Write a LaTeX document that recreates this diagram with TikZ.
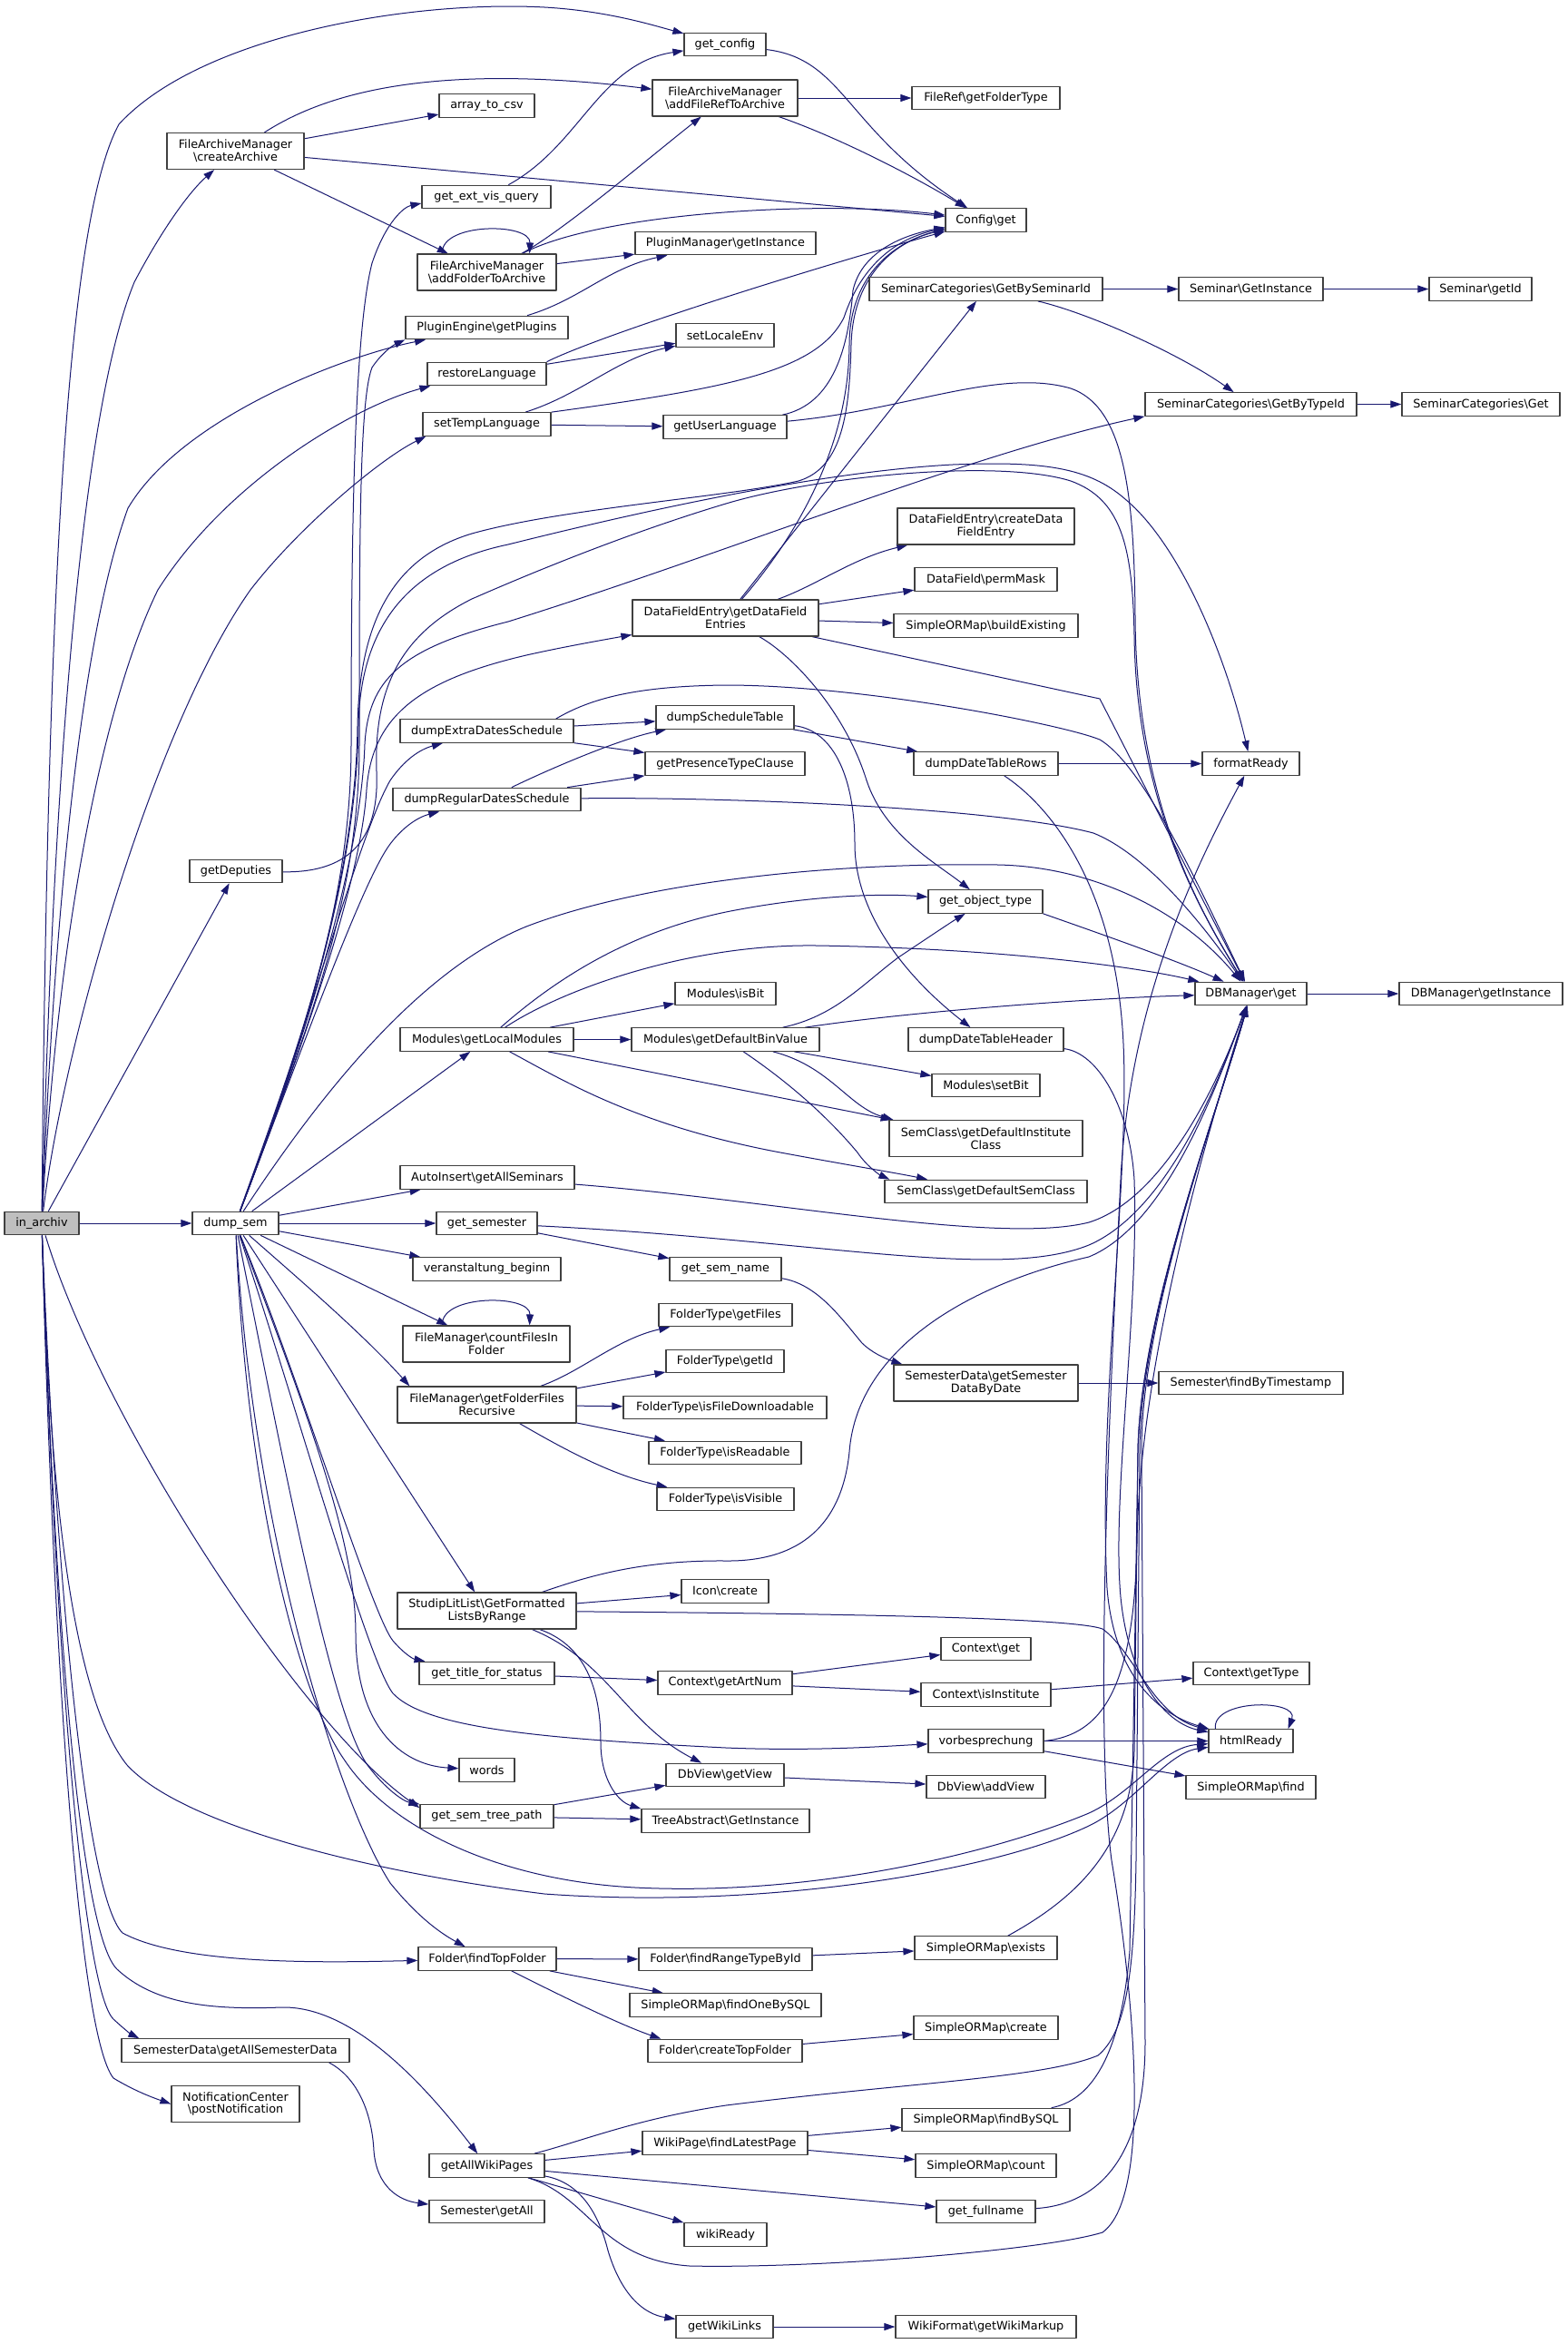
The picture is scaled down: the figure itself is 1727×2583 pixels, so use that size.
\documentclass[tikz,border=0pt]{standalone}
\usepackage{fontspec}
\setmainfont{DejaVu Sans}
\usetikzlibrary{arrows.meta,backgrounds}
\definecolor{edgeblue}{HTML}{191970}
\definecolor{boxline}{HTML}{404040}
\newcommand{\bsl}{\textbackslash}
\tikzset{
  fn/.style={draw=boxline,line width=1.2pt,fill=white,inner sep=0pt,
    minimum height=25.5pt,align=center,font=\fontsize{12.8}{13.7}\selectfont},
  fn2/.style={fn,minimum height=40pt},
  call/.style={draw=edgeblue,line width=1pt,-{Triangle[length=12pt,width=8pt]}},
}
\begin{document}
\begin{tikzpicture}[x=1pt,y=-1pt,line join=round]
\useasboundingbox (0,0) rectangle (1727,2583);
% functions
\node[fn,fill=gray!50,minimum width=82pt] (inarchiv) at (46,1348) {in\_archiv};
\node[fn,minimum width=95pt] (dumpsem) at (259.5,1348) {dump\_sem};
\node[fn2,minimum width=151pt] (createArchive) at (259.5,166.5) {FileArchiveManager\\\bsl createArchive};
\node[fn,minimum width=105pt] (arraytocsv) at (536.5,116.5) {array\_to\_csv};
\node[fn,minimum width=142pt] (getextvisquery) at (536,217) {get\_ext\_vis\_query};
\node[fn2,minimum width=153pt] (addFolder) at (536.5,300) {FileArchiveManager\\\bsl addFolderToArchive};
\node[fn,minimum width=179pt] (getPlugins) at (536.5,361) {PluginEngine\bsl getPlugins};
\node[fn,minimum width=131pt] (restoreLang) at (536.5,412) {restoreLanguage};
\node[fn,minimum width=141pt] (setTempLang) at (536.5,467.5) {setTempLanguage};
\node[fn,minimum width=90pt] (getconfig) at (799,49) {get\_config};
\node[fn2,minimum width=160pt] (addFileRef) at (799,108) {FileArchiveManager\\\bsl addFileRefToArchive};
\node[fn,minimum width=163pt] (getFolderType) at (1086.5,108) {FileRef\bsl getFolderType};
\node[fn,minimum width=89pt] (configget) at (1086.5,242.5) {Config\bsl get};
\node[fn,minimum width=199pt] (pmGetInstance) at (799.5,268) {PluginManager\bsl getInstance};
\node[fn,minimum width=257pt] (getBySeminarId) at (1086.5,318.5) {SeminarCategories\bsl GetBySeminarId};
\node[fn,minimum width=108pt] (setLocaleEnv) at (799,369.5) {setLocaleEnv};
\node[fn,minimum width=136pt] (getUserLang) at (799,470.5) {getUserLanguage};
\node[fn,minimum width=159pt] (semGetInstance) at (1378.5,318.5) {Seminar\bsl GetInstance};
\node[fn,minimum width=113pt] (semGetId) at (1631.5,318.5) {Seminar\bsl getId};
\node[fn,minimum width=233pt] (getByTypeId) at (1378.5,445.5) {SeminarCategories\bsl GetByTypeId};
\node[fn,minimum width=174pt] (scGet) at (1632,445.5) {SeminarCategories\bsl Get};
\node[fn2,minimum width=195pt] (createDFE) at (1086.5,580) {DataFieldEntry\bsl createData\\FieldEntry};
\node[fn,minimum width=157pt] (permMask) at (1086.5,638.5) {DataField\bsl permMask};
\node[fn2,minimum width=205pt] (getDFE) at (799.5,681) {DataFieldEntry\bsl getDataField\\Entries};
\node[fn,minimum width=203pt] (buildExisting) at (1086.5,689.5) {SimpleORMap\bsl buildExisting};
\node[fn,minimum width=191pt] (dumpExtra) at (536.5,805.5) {dumpExtraDatesSchedule};
\node[fn,minimum width=207pt] (dumpRegular) at (536.5,881) {dumpRegularDatesSchedule};
\node[fn,minimum width=152pt] (dumpSchedTable) at (799,790.5) {dumpScheduleTable};
\node[fn,minimum width=176pt] (getPresence) at (799,841.5) {getPresenceTypeClause};
\node[fn,minimum width=159pt] (dumpRows) at (1086.5,841.5) {dumpDateTableRows};
\node[fn,minimum width=107pt] (formatReady) at (1378.5,841.5) {formatReady};
\node[fn,minimum width=102pt] (getDeputies) at (260,960) {getDeputies};
\node[fn,minimum width=126pt] (getobjecttype) at (1086,993.5) {get\_object\_type};
\node[fn,minimum width=111pt] (isBit) at (799.5,1095) {Modules\bsl isBit};
\node[fn,minimum width=123pt] (dbget) at (1378.5,1095) {DBManager\bsl get};
\node[fn,minimum width=180pt] (dbgetInstance) at (1632,1095) {DBManager\bsl getInstance};
\node[fn,minimum width=191pt] (getLocalModules) at (536.5,1145.5) {Modules\bsl getLocalModules};
\node[fn,minimum width=207pt] (getDefaultBin) at (799.5,1145.5) {Modules\bsl getDefaultBinValue};
\node[fn,minimum width=171pt] (dumpHeader) at (1086.5,1145.5) {dumpDateTableHeader};
\node[fn,minimum width=119pt] (setBit) at (1086.5,1196) {Modules\bsl setBit};
\node[fn2,minimum width=213pt] (defInstClass) at (1086.5,1254.5) {SemClass\bsl getDefaultInstitute\\Class};
\node[fn,minimum width=192pt] (getAllSeminars) at (537,1297.5) {AutoInsert\bsl getAllSeminars};
\node[fn,minimum width=223pt] (defSemClass) at (1086.5,1313) {SemClass\bsl getDefaultSemClass};
\node[fn,minimum width=111pt] (getsemester) at (536.5,1348) {get\_semester};
\node[fn,minimum width=163pt] (veranstaltung) at (536.5,1398.5) {veranstaltung\_beginn};
\node[fn,minimum width=123pt] (getsemname) at (799.5,1398.5) {get\_sem\_name};
\node[fn2,minimum width=184pt] (countFiles) at (536,1481) {FileManager\bsl countFilesIn\\Folder};
\node[fn,minimum width=147pt] (ftGetFiles) at (799.5,1449) {FolderType\bsl getFiles};
\node[fn,minimum width=130pt] (ftGetId) at (799,1500) {FolderType\bsl getId};
\node[fn,minimum width=224pt] (ftDownload) at (799,1551) {FolderType\bsl isFileDownloadable};
\node[fn,minimum width=168pt] (ftReadable) at (799,1601) {FolderType\bsl isReadable};
\node[fn,minimum width=151pt] (ftVisible) at (799.5,1652) {FolderType\bsl isVisible};
\node[fn2,minimum width=197pt] (getFolderFiles) at (536.5,1548) {FileManager\bsl getFolderFiles\\Recursive};
\node[fn2,minimum width=203pt] (semDataByDate) at (1086.5,1524) {SemesterData\bsl getSemester\\DataByDate};
\node[fn,minimum width=203pt] (findByTimestamp) at (1378.5,1524) {Semester\bsl findByTimestamp};
\node[fn2,minimum width=197pt] (litList) at (536.5,1775) {StudipLitList\bsl GetFormatted\\ListsByRange};
\node[fn,minimum width=96pt] (iconCreate) at (799,1753.5) {Icon\bsl create};
\node[fn,minimum width=149pt] (titleStatus) at (536.5,1844) {get\_title\_for\_status};
\node[fn,minimum width=99pt] (ctxGet) at (1086.5,1817) {Context\bsl get};
\node[fn,minimum width=148pt] (ctxArtNum) at (799,1854.5) {Context\bsl getArtNum};
\node[fn,minimum width=143pt] (ctxIsInst) at (1086.5,1867.5) {Context\bsl isInstitute};
\node[fn,minimum width=128pt] (ctxGetType) at (1379,1844) {Context\bsl getType};
\node[fn,minimum width=127pt] (vorbesprechung) at (1086.5,1918.5) {vorbesprechung};
\node[fn,minimum width=93pt] (htmlReady) at (1378.5,1918.5) {htmlReady};
\node[fn,minimum width=61pt] (words) at (536.5,1950.5) {words};
\node[fn,minimum width=130pt] (dbGetView) at (799,1956) {DbView\bsl getView};
\node[fn,minimum width=131pt] (dbAddView) at (1086.5,1969) {DbView\bsl addView};
\node[fn,minimum width=143pt] (ormFind) at (1378.5,1969.5) {SimpleORMap\bsl find};
\node[fn,minimum width=147pt] (semTreePath) at (536.5,2001.5) {get\_sem\_tree\_path};
\node[fn,minimum width=185pt] (treeGetInstance) at (799.5,2006.5) {TreeAbstract\bsl GetInstance};
\node[fn,minimum width=152pt] (findTopFolder) at (537,2158.5) {Folder\bsl findTopFolder};
\node[fn,minimum width=191pt] (findRangeType) at (799.5,2159) {Folder\bsl findRangeTypeById};
\node[fn,minimum width=157pt] (ormExists) at (1086.5,2146.5) {SimpleORMap\bsl exists};
\node[fn,minimum width=211pt] (findOneBySQL) at (799.5,2209.5) {SimpleORMap\bsl findOneBySQL};
\node[fn,minimum width=159pt] (ormCreate) at (1086.5,2234.5) {SimpleORMap\bsl create};
\node[fn,minimum width=170pt] (createTopFolder) at (799,2260) {Folder\bsl createTopFolder};
\node[fn,minimum width=251pt] (allSemData) at (259.5,2259.5) {SemesterData\bsl getAllSemesterData};
\node[fn2,minimum width=141pt] (postNotif) at (259.5,2318.5) {NotificationCenter\\\bsl postNotification};
\node[fn,minimum width=185pt] (ormFindBySQL) at (1086.5,2336) {SimpleORMap\bsl findBySQL};
\node[fn,minimum width=182pt] (findLatestPage) at (799,2361.5) {WikiPage\bsl findLatestPage};
\node[fn,minimum width=155pt] (ormCount) at (1086.5,2386.5) {SimpleORMap\bsl count};
\node[fn,minimum width=127pt] (allWikiPages) at (536.5,2386.5) {getAllWikiPages};
\node[fn,minimum width=127pt] (semGetAll) at (536.5,2437) {Semester\bsl getAll};
\node[fn,minimum width=109pt] (getFullname) at (1086.5,2437) {get\_fullname};
\node[fn,minimum width=91pt] (wikiReady) at (799.5,2462.5) {wikiReady};
\node[fn,minimum width=107pt] (getWikiLinks) at (798.5,2564) {getWikiLinks};
\node[fn,minimum width=199pt] (getWikiMarkup) at (1086.5,2564) {WikiFormat\bsl getWikiMarkup};

\begin{scope}[on background layer]
\fill[white] (0,0) rectangle (1727,2583);
% calls of in_archiv
\draw[call] (inarchiv) -- (dumpsem);
\draw[call] (inarchiv) .. controls (52,700) and (70,250) .. (131,137) .. controls (220,40) and (450,0) .. (600,8) .. controls (670,12) and (720,28) .. (getconfig);
\draw[call] (inarchiv) .. controls (60,800) and (95,440) .. (148,311) .. controls (180,250) and (210,210) .. (createArchive);
\draw[call] (inarchiv) .. controls (60,1000) and (90,700) .. (141,560) .. controls (200,460) and (380,392) .. (getPlugins);
\draw[call] (inarchiv) .. controls (65,1000) and (120,760) .. (174,650) .. controls (250,530) and (390,448) .. ([xshift=4pt]restoreLang.south west);
\draw[call] (inarchiv) .. controls (70,1150) and (170,800) .. (276,650) .. controls (330,580) and (420,505) .. ([xshift=4pt]setTempLang.south west);
\draw[call] (inarchiv) -- (getDeputies);
\draw[call] (inarchiv) .. controls (110,1560) and (330,1900) .. ([yshift=-4pt]semTreePath.north west);
\draw[call] (inarchiv) .. controls (62,1750) and (95,2090) .. (135,2130) .. controls (200,2165) and (350,2163) .. (findTopFolder);
\draw[call] (inarchiv) .. controls (60,1780) and (88,2130) .. (129,2170) .. controls (170,2208) and (230,2215) .. (310,2212) .. controls (390,2210) and (470,2300) .. (allWikiPages);
\draw[call] (inarchiv) .. controls (60,1800) and (90,2190) .. (125,2225) .. controls (138,2237) and (145,2242) .. ([xshift=20pt]allSemData.north west);
\draw[call] (inarchiv) .. controls (58,1800) and (85,2240) .. (125,2290) .. controls (150,2305) and (170,2312) .. (postNotif.west);
\draw[call] (inarchiv) .. controls (55,1650) and (80,1870) .. (140,1945) .. controls (200,2010) and (400,2062) .. (600,2087) .. controls (850,2105) and (1100,2060) .. (1200,2012) .. controls (1250,1988) and (1285,1932) .. (htmlReady);
% calls of dump_sem
\draw[call] (dumpsem) -- (getsemester);
\draw[call] (dumpsem) -- (getAllSeminars);
\draw[call] (dumpsem) -- (veranstaltung);
\draw[call] (dumpsem) -- (countFiles);
\draw[call] (dumpsem) .. controls (330,1410) and (400,1470) .. ([xshift=14pt]getFolderFiles.north west);
\draw[call] (dumpsem) -- (litList);
\draw[call] (dumpsem) -- (getLocalModules);
\draw[call] (dumpsem) .. controls (330,1150) and (387,1000) .. (387,820) .. controls (387,550) and (392,360) .. (410,290) .. controls (425,245) and (445,228) .. ([yshift=-7pt]getextvisquery.west);
\draw[call] (dumpsem) .. controls (332,1150) and (396,1000) .. (396,820) .. controls (396,600) and (396,440) .. (410,405) .. controls (420,390) and (432,381) .. (getPlugins.south west);
\draw[call] (dumpsem) .. controls (335,1150) and (392,960) .. (394,800) .. controls (396,690) and (430,615) .. (520,588) .. controls (620,560) and (800,548) .. (880,530) .. controls (930,515) and (936,450) .. (938,380) .. controls (940,300) and (990,265) .. (configget);
\draw[call] (dumpsem) .. controls (335,1150) and (393,960) .. (395,800) .. controls (397,700) and (440,625) .. (560,600) .. controls (700,565) and (900,520) .. (1050,512) .. controls (1150,508) and (1200,515) .. (1240,550) .. controls (1300,600) and (1350,720) .. (formatReady);
\draw[call] (dumpsem) .. controls (335,1150) and (398,950) .. (402,820) .. controls (406,750) and (440,715) .. (560,685) .. controls (800,610) and (1070,500) .. (getByTypeId.south west);
\draw[call] (dumpsem) .. controls (335,1150) and (398,970) .. (404,870) .. controls (410,790) and (460,750) .. (580,722) .. controls (620,713) and (660,706) .. (getDFE);
\draw[call] (dumpsem) .. controls (335,1150) and (395,920) .. (430,860) .. controls (445,838) and (462,826) .. (dumpExtra);
\draw[call] (dumpsem) .. controls (335,1150) and (400,970) .. (430,930) .. controls (445,910) and (462,900) .. (dumpRegular);
\draw[call] (dumpsem) .. controls (350,1210) and (460,1070) .. (580,1021) .. controls (700,975) and (900,950) .. (1100,953) .. controls (1200,955) and (1300,1000) .. (dbget);
\draw[call] (dumpsem) .. controls (330,1520) and (410,1780) .. (433,1808) .. controls (445,1822) and (455,1828) .. (titleStatus);
\draw[call] (dumpsem) .. controls (330,1560) and (405,1830) .. (433,1866) .. controls (470,1905) and (600,1916) .. (800,1926) .. controls (900,1930) and (980,1924) .. (vorbesprechung);
\draw[call] (dumpsem) .. controls (340,1560) and (392,1700) .. (392,1800) .. controls (392,1900) and (440,1945) .. (words);
\draw[call] (dumpsem) .. controls (310,1600) and (365,1890) .. (405,1945) .. controls (425,1972) and (445,1985) .. (semTreePath);
\draw[call] (dumpsem) .. controls (280,1700) and (375,1990) .. (430,2075) .. controls (460,2112) and (485,2130) .. (findTopFolder);
\draw[call] (dumpsem) .. controls (272,1650) and (330,1870) .. (380,1940) .. controls (430,2015) and (550,2072) .. (700,2080) .. controls (900,2090) and (1100,2040) .. (1200,1998) .. controls (1250,1975) and (1280,1925) .. (htmlReady);
% archive and language helpers
\draw[call] (createArchive) .. controls (355,105) and (470,68) .. (addFileRef);
\draw[call] (createArchive) -- (arraytocsv);
\draw[call] (createArchive) -- (configget);
\draw[call] (createArchive) -- (addFolder);
\draw[call] (getextvisquery) .. controls (640,160) and (660,70) .. (getconfig);
\draw[call] (getconfig) .. controls (930,65) and (930,140) .. (configget);
\draw[call] (addFileRef) -- (getFolderType);
\draw[call] (addFileRef) .. controls (920,150) and (1000,190) .. (configget);
\draw[call] (addFolder) .. controls (620,255) and (720,170) .. (addFileRef);
\draw[call] (addFolder) -- (pmGetInstance);
\draw[call] (addFolder) .. controls (660,235) and (900,220) .. (configget);
\draw[call] ([xshift=28pt]addFolder.north west) .. controls (485,245) and (585,245) .. ([xshift=-30pt]addFolder.north east);
\draw[call] (getPlugins) .. controls (640,330) and (670,295) .. (pmGetInstance);
\draw[call] (restoreLang) -- (setLocaleEnv);
\draw[call] (restoreLang.north east) .. controls (660,370) and (880,300) .. (configget);
\draw[call] (setTempLang) .. controls (640,435) and (680,395) .. (setLocaleEnv);
\draw[call] (setTempLang.north east) .. controls (800,428) and (900,410) .. (930,350) .. controls (950,290) and (990,262) .. (configget);
\draw[call] (setTempLang) -- (getUserLang);
\draw[call] (getUserLang) .. controls (920,445) and (935,380) .. (940,320) .. controls (950,275) and (1000,258) .. (configget);
\draw[call] (getUserLang) .. controls (1000,452) and (1100,405) .. (1180,428) .. controls (1238,448) and (1250,540) .. (1251,680) .. controls (1252,880) and (1320,1000) .. (dbget);
\draw[call] (getDeputies) .. controls (390,962) and (418,920) .. (415,850) .. controls (412,760) and (440,700) .. (520,660) .. controls (600,625) and (700,585) .. (800,555) .. controls (900,525) and (1100,505) .. (1180,530) .. controls (1235,550) and (1248,600) .. (1250,700) .. controls (1252,880) and (1320,1000) .. (dbget);
% seminar categories
\draw[call] (getBySeminarId) -- (semGetInstance);
\draw[call] (semGetInstance) -- (semGetId);
\draw[call] (getBySeminarId) .. controls (1200,345) and (1300,390) .. (getByTypeId);
\draw[call] (getByTypeId) -- (scGet);
% datafields
\draw[call] (getDFE) -- (getBySeminarId);
\draw[call] (getDFE) .. controls (870,600) and (935,500) .. (936,380) .. controls (936,300) and (990,265) .. (configget);
\draw[call] (getDFE) .. controls (900,645) and (940,615) .. (createDFE);
\draw[call] (getDFE) -- (permMask);
\draw[call] (getDFE) -- (buildExisting);
\draw[call] (getDFE) -- (1212,770) -- (dbget);
\draw[call] (getDFE) .. controls (870,720) and (930,780) .. (955,860) .. controls (975,920) and (1030,950) .. (getobjecttype);
% dates
\draw[call] (dumpExtra) -- (dumpSchedTable);
\draw[call] (dumpExtra) -- (getPresence);
\draw[call] ([xshift=-20pt]dumpExtra.north east) .. controls (650,770) and (700,756) .. (800,755) .. controls (950,755) and (1170,798) .. (1212,815) .. controls (1262,845) and (1325,985) .. (dbget);
\draw[call] (dumpRegular) .. controls (600,850) and (680,815) .. (dumpSchedTable);
\draw[call] (dumpRegular) -- (getPresence);
\draw[call] (dumpRegular) .. controls (800,878) and (1100,890) .. (1205,918) .. controls (1260,940) and (1320,1010) .. (dbget);
\draw[call] (dumpSchedTable) -- (dumpRows);
\draw[call] (dumpSchedTable) .. controls (920,805) and (942,860) .. (942,930) .. controls (942,1000) and (990,1070) .. (dumpHeader);
\draw[call] (dumpRows) -- (formatReady);
\draw[call] (dumpRows) .. controls (1160,890) and (1230,980) .. (1238,1150) .. controls (1245,1300) and (1210,1550) .. (1220,1750) .. controls (1228,1850) and (1280,1890) .. (htmlReady);
\draw[call] (dumpHeader) .. controls (1210,1160) and (1245,1220) .. (1250,1300) .. controls (1255,1450) and (1225,1650) .. (1235,1760) .. controls (1245,1860) and (1290,1900) .. (htmlReady);
% modules
\draw[call] (getobjecttype.south east) .. controls (1230,1035) and (1300,1060) .. (dbget);
\draw[call] (getLocalModules) -- (getDefaultBin);
\draw[call] (getLocalModules) -- (isBit);
\draw[call] (getLocalModules) .. controls (600,1090) and (680,1030) .. (800,1005) .. controls (900,985) and (980,985) .. (getobjecttype);
\draw[call] (getLocalModules) .. controls (620,1090) and (760,1040) .. (900,1042) .. controls (1100,1045) and (1250,1065) .. (dbget);
\draw[call] (getLocalModules) -- (defInstClass);
\draw[call] (getLocalModules) .. controls (620,1190) and (700,1240) .. (860,1270) .. controls (930,1283) and (990,1293) .. (defSemClass);
\draw[call] (getDefaultBin) .. controls (920,1120) and (950,1085) .. (990,1055) .. controls (1020,1035) and (1050,1015) .. (getobjecttype);
\draw[call] (getDefaultBin) .. controls (1000,1115) and (1200,1100) .. (dbget);
\draw[call] (getDefaultBin) -- (setBit);
\draw[call] (getDefaultBin) .. controls (915,1175) and (935,1220) .. ([xshift=5pt]defInstClass.north west);
\draw[call] (getDefaultBin) .. controls (880,1200) and (920,1240) .. (945,1270) .. controls (955,1285) and (970,1295) .. ([xshift=6pt]defSemClass.north west);
\draw[call] (dbget) -- (dbgetInstance);
% semester
\draw[call] (getAllSeminars) .. controls (850,1322) and (1100,1372) .. (1200,1347) .. controls (1280,1322) and (1340,1200) .. (dbget);
\draw[call] (getsemester) .. controls (900,1366) and (1100,1412) .. (1200,1372) .. controls (1285,1335) and (1340,1200) .. (dbget);
\draw[call] (getsemester) -- (getsemname);
\draw[call] (getsemname) .. controls (900,1415) and (925,1450) .. (950,1480) .. controls (960,1490) and (975,1497) .. ([xshift=10pt]semDataByDate.north west);
\draw[call] (semDataByDate) -- (findByTimestamp);
% files
\draw[call] ([xshift=44pt]countFiles.north west) .. controls (485,1426) and (585,1426) .. ([xshift=-45pt]countFiles.north east);
\draw[call] (getFolderFiles) .. controls (640,1512) and (680,1475) .. (ftGetFiles);
\draw[call] (getFolderFiles) -- (ftGetId);
\draw[call] (getFolderFiles) -- (ftDownload);
\draw[call] (getFolderFiles) -- (ftReadable);
\draw[call] (getFolderFiles) .. controls (610,1590) and (670,1625) .. (ftVisible);
% literature and context
\draw[call] (litList) -- (iconCreate);
\draw[call] (litList) .. controls (640,1740) and (700,1719) .. (800,1720) .. controls (900,1721) and (930,1660) .. (936,1600) .. controls (945,1480) and (1080,1412) .. (1200,1385) .. controls (1285,1350) and (1340,1200) .. (dbget);
\draw[call] (litList) .. controls (900,1778) and (1180,1782) .. (1215,1795) .. controls (1250,1820) and (1270,1890) .. (htmlReady);
\draw[call] (litList) .. controls (670,1830) and (690,1900) .. (dbGetView);
\draw[call] (litList) .. controls (650,1815) and (662,1870) .. (662,1920) .. controls (662,1960) and (680,1985) .. (treeGetInstance.north west);
\draw[call] (titleStatus) -- (ctxArtNum);
\draw[call] (ctxArtNum) -- (ctxGet);
\draw[call] (ctxArtNum) -- (ctxIsInst);
\draw[call] (ctxIsInst) -- (ctxGetType);
\draw[call] (vorbesprechung) -- (htmlReady);
\draw[call] (vorbesprechung) -- (ormFind);
\draw[call] (vorbesprechung.east) .. controls (1215,1912) and (1250,1860) .. (1253,1700) .. controls (1256,1500) and (1330,1250) .. (dbget);
\draw[call] ([xshift=8pt]htmlReady.north west) .. controls (1335,1872) and (1432,1872) .. ([xshift=-6pt]htmlReady.north east);
\draw[call] (semTreePath) -- (dbGetView);
\draw[call] (semTreePath) -- (treeGetInstance);
\draw[call] (dbGetView) -- (dbAddView);
% folders
\draw[call] (findTopFolder) -- (findRangeType);
\draw[call] (findTopFolder) -- (findOneBySQL);
\draw[call] (findTopFolder) .. controls (610,2195) and (680,2230) .. ([xshift=15pt]createTopFolder.north west);
\draw[call] (findRangeType) -- (ormExists);
\draw[call] (ormExists) .. controls (1180,2095) and (1246,2040) .. (1250,1930) -- (1254,1600) .. controls (1256,1450) and (1340,1230) .. (dbget);
\draw[call] (createTopFolder) -- (ormCreate);
\draw[call] ([xshift=-23pt]allSemData.south east) .. controls (395,2290) and (410,2330) .. (412,2370) .. controls (415,2410) and (440,2425) .. (semGetAll);
% wiki
\draw[call] (allWikiPages) -- (findLatestPage);
\draw[call] (allWikiPages) -- (getFullname);
\draw[call] (allWikiPages) -- (wikiReady);
\draw[call] (allWikiPages) .. controls (640,2405) and (660,2440) .. (670,2480) .. controls (685,2530) and (710,2550) .. (getWikiLinks);
\draw[call] (allWikiPages) .. controls (650,2420) and (660,2490) .. (760,2497) .. controls (900,2500) and (1150,2480) .. (1215,2460) .. controls (1270,2420) and (1250,2200) .. (1225,2050) .. controls (1205,1900) and (1225,1500) .. (1235,1300) .. controls (1245,1100) and (1320,950) .. (formatReady);
\draw[call] (allWikiPages) .. controls (640,2360) and (700,2335) .. (800,2320) .. controls (1000,2295) and (1150,2290) .. (1210,2265) .. controls (1240,2240) and (1250,2180) .. (1252,2050) -- (1256,1600) .. controls (1256,1450) and (1340,1230) .. (dbget);
\draw[call] (findLatestPage) -- (ormFindBySQL);
\draw[call] (findLatestPage) -- (ormCount);
\draw[call] (ormFindBySQL) .. controls (1200,2315) and (1235,2270) .. (1245,2150) -- (1254,1600) .. controls (1256,1450) and (1340,1230) .. (dbget);
\draw[call] (getFullname) .. controls (1200,2430) and (1262,2390) .. (1262,2250) -- (1258,1600) .. controls (1257,1450) and (1340,1230) .. (dbget);
\draw[call] (getWikiLinks) -- (getWikiMarkup);
\end{scope}
\end{tikzpicture}
\end{document}
